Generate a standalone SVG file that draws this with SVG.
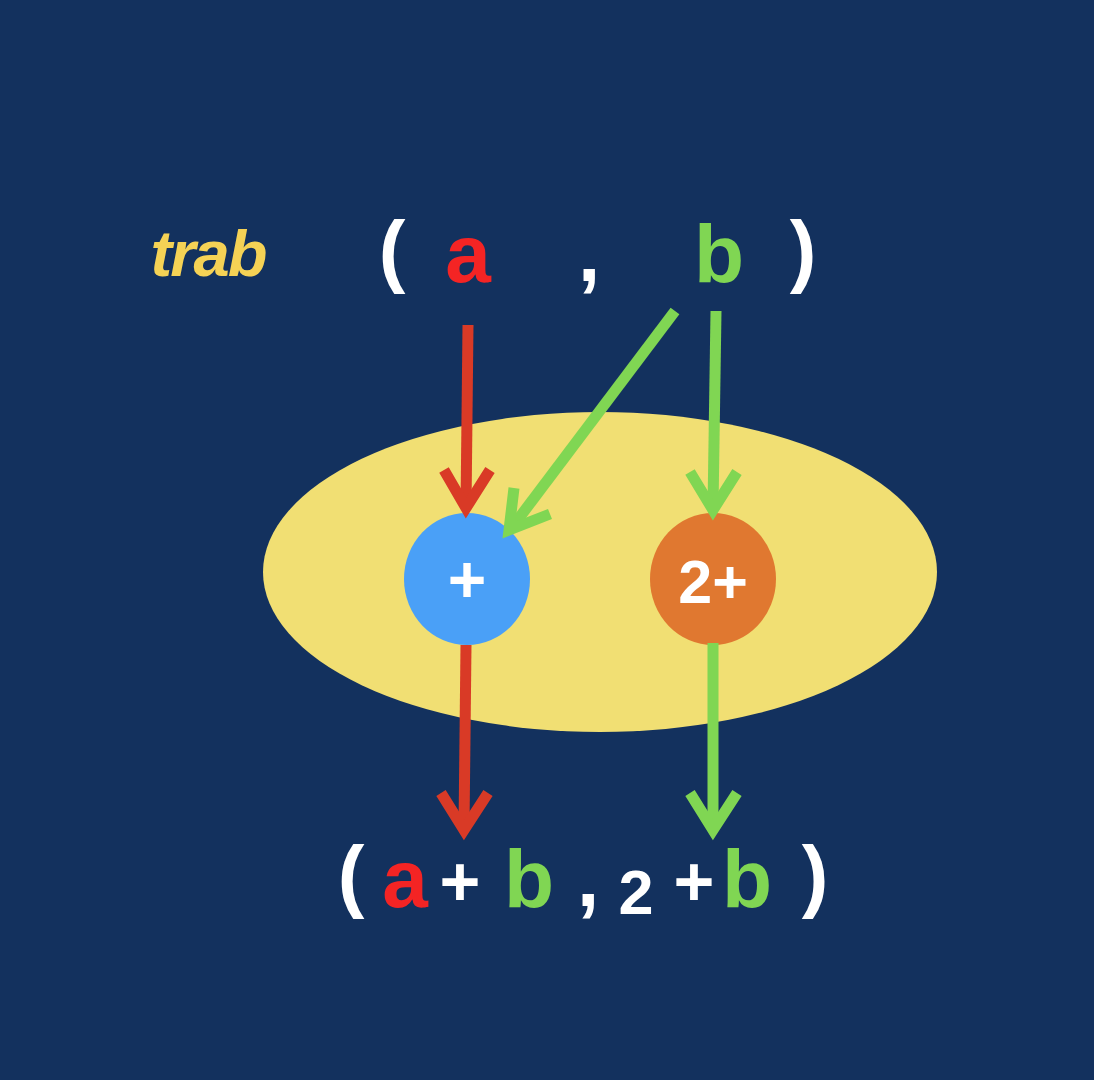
<svg xmlns="http://www.w3.org/2000/svg" width="1094" height="1080" viewBox="0 0 1094 1080">
<style>
.t{font-family:"Liberation Sans","DejaVu Sans",sans-serif;font-weight:bold;text-anchor:middle}
.w{fill:#ffffff}
.r{fill:#F42424}
.g{fill:#80D653}
.lr{stroke:#D93A26;stroke-width:11;fill:none;stroke-linecap:butt}
.lg{stroke:#80D653;stroke-width:11;fill:none;stroke-linecap:butt}
</style>
<rect width="1094" height="1080" fill="#13315E"/>
<g id="ellipse"><ellipse cx="600" cy="572" rx="337" ry="160" fill="#F1DF73"/></g>
<g id="title"><text x="208" y="276" font-family="Liberation Sans, sans-serif" font-weight="bold" font-style="italic" font-size="65" fill="#F5D255" text-anchor="middle" letter-spacing="-2">trab</text></g>
<g id="input">
<text class="t w" x="392" y="277" font-size="80">(</text>
<text class="t r" x="468" y="282" font-size="82">a</text>
<text class="t w" x="589" y="281" font-size="80">,</text>
<text class="t g" x="719" y="282" font-size="82">b</text>
<text class="t w" x="803" y="277" font-size="80">)</text>
</g>
<g id="node-plus">
<ellipse cx="467" cy="579" rx="63" ry="66" fill="#4AA0F7"/>
<text class="t w" x="467" y="602" font-size="66">+</text>
</g>
<g id="node-2plus">
<ellipse cx="713" cy="579" rx="63" ry="66" fill="#E07830"/>
<text class="t w" x="713" y="603" font-size="61">2+</text>
</g>
<g id="connectors">
<path class="lr" d="M468 325 L466 508"/>
<path class="lr" d="M444 470 L466 508 L490 470"/>
<path class="lg" d="M675 311 L510 530"/>
<path class="lg" d="M514 488 L509 530 L550 514"/>
<path class="lg" d="M716 311 L713 508"/>
<path class="lg" d="M690 472 L713 510 L737 472"/>
<path class="lr" d="M466 645 L464 828"/>
<path class="lr" d="M441 793 L464 830 L488 793"/>
<path class="lg" d="M713 643 L713 828"/>
<path class="lg" d="M690 793 L713 830 L737 793"/>
</g>
<g id="output">
<text class="t w" x="351" y="902" font-size="80">(</text>
<text class="t r" x="405" y="907" font-size="82">a</text>
<text class="t w" x="460" y="906" font-size="70">+</text>
<text class="t g" x="529" y="907" font-size="82">b</text>
<text class="t w" x="588" y="906" font-size="80">,</text>
<text class="t w" x="636" y="914" font-size="63">2</text>
<text class="t w" x="694" y="906" font-size="70">+</text>
<text class="t g" x="747" y="907" font-size="82">b</text>
<text class="t w" x="815" y="902" font-size="80">)</text>
</g>
</svg>
